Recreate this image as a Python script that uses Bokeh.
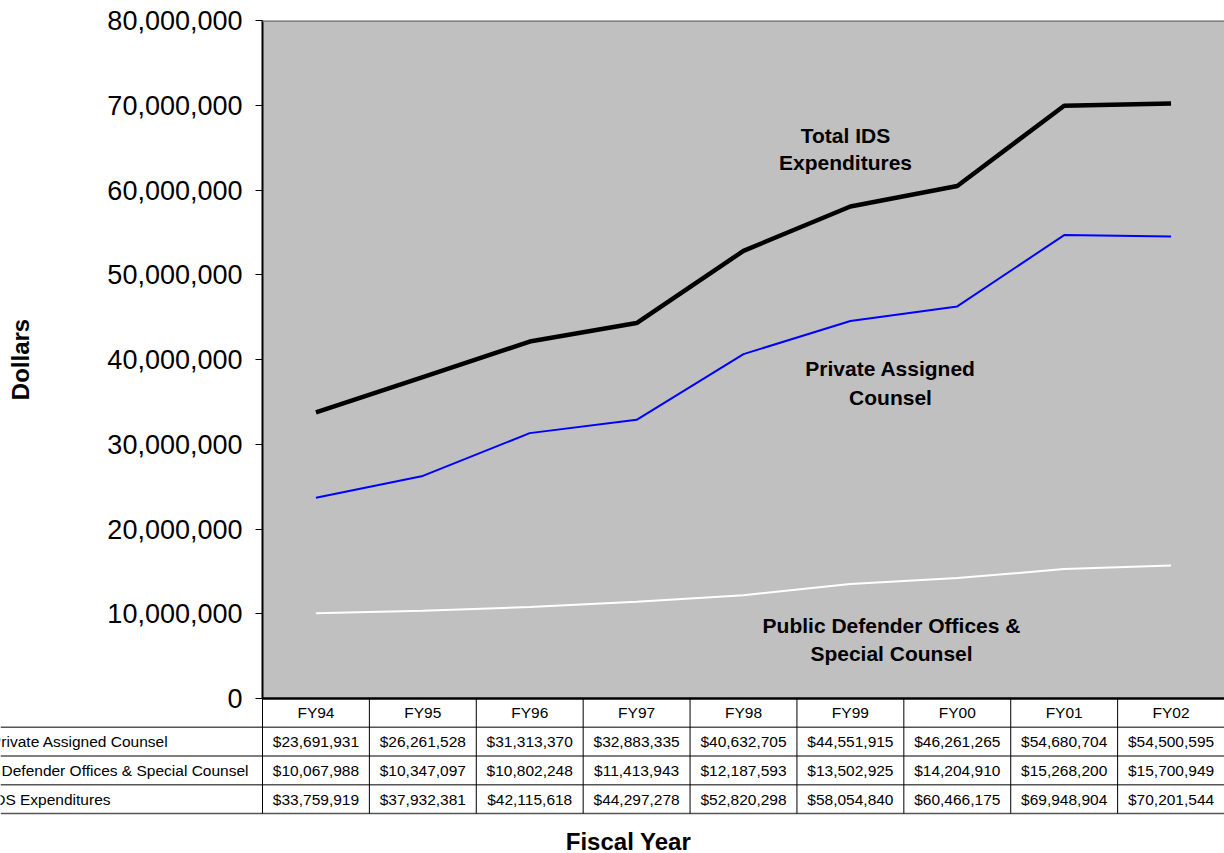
from bokeh.plotting import figure
from bokeh.layouts import column
from bokeh.models import Range1d, FixedTicker, NumeralTickFormatter, Span
from bokeh.core.properties import value
from bokeh.embed import file_html
from bokeh.resources import INLINE

# ---------------- data ----------------
fiscal_years = ["FY94", "FY95", "FY96", "FY97", "FY98", "FY99", "FY00", "FY01", "FY02"]
private_assigned = [23691931, 26261528, 31313370, 32883335, 40632705,
                    44551915, 46261265, 54680704, 54500595]
public_defender = [10067988, 10347097, 10802248, 11413943, 12187593,
                   13502925, 14204910, 15268200, 15700949]
total_ids = [33759919, 37932381, 42115618, 44297278, 52820298,
             58054840, 60466175, 69948904, 70201544]
row_labels = ["Private Assigned Counsel",
              "Public Defender Offices & Special Counsel",
              "Total IDS Expenditures"]
y_ticks = [0, 10000000, 20000000, 30000000, 40000000,
           50000000, 60000000, 70000000, 80000000]

# ---------------- layout constants ----------------
FONT = "Liberation Sans"
W, H = 1224, 853
LEFT, TOP = 262, 20
ZERO_PX = 698          # pixel row of the plot-area bottom (y = 0)
YMAX = 80000000
n = len(fiscal_years)
step = (W - LEFT) / n
unit = YMAX / (ZERO_PX - TOP)

# ================= chart =================
p = figure(width=W, height=H, x_range=Range1d(0, n), y_range=Range1d(0, YMAX),
           x_axis_type=None, output_backend="svg", toolbar_location=None,
           min_border_left=LEFT, min_border_top=TOP, min_border_right=0,
           min_border_bottom=H - ZERO_PX)
p.frame_align = False
p.background_fill_color = "#C0C0C0"
p.border_fill_color = "white"
p.outline_line_color = None
p.grid.visible = False
p.add_layout(Span(location=YMAX, dimension="width", line_color="#808080", line_width=3))


def py(pix):
    return (ZERO_PX - pix) * unit


def px(pix):
    return (pix - LEFT) / step


xs = [i + 0.5 for i in range(n)]
p.line(xs, public_defender, line_color="white", line_width=2)
p.line(xs, private_assigned, line_color="#0000FF", line_width=2)
p.line(xs, total_ids, line_color="black", line_width=4.5)

ax = p.yaxis[0]
ax.ticker = FixedTicker(ticks=y_ticks)
ax.formatter = NumeralTickFormatter(format="0,0")
ax.major_label_text_font = FONT
ax.major_label_text_font_size = "27px"
ax.major_label_text_color = "black"
ax.major_tick_out = 7
ax.major_tick_in = 0
ax.minor_tick_out = 0
ax.minor_tick_in = 0
ax.major_tick_line_color = "black"
ax.axis_line_color = "black"
ax.axis_line_width = 2
ax.major_label_standoff = 13
ax.axis_label = "Dollars"
ax.axis_label_text_font = FONT
ax.axis_label_text_font_style = "bold"
ax.axis_label_text_font_size = "24px"
ax.axis_label_text_color = "black"
ax.axis_label_standoff = 70

ann_text = ["Total IDS", "Expenditures", "Private Assigned", "Counsel",
            "Public Defender Offices &", "Special Counsel"]
ann_x = [px(845), px(845), px(890), px(890), px(891), px(891)]
ann_y = [py(135), py(162), py(368), py(397), py(625), py(653)]
p.text(x=ann_x, y=ann_y, text=ann_text, text_font=value(FONT), text_font_style="bold",
       text_font_size="21px", text_align="center", text_baseline="middle",
       text_color="black")

# ================= data table (transparent overlay under the plot area) =================
ROW_H = 28.75
TB_TOP = ZERO_PX - 5
TB_H = H - TB_TOP
t = figure(width=W, height=TB_H,
           x_range=Range1d(-LEFT / step, n),
           y_range=Range1d((H - ZERO_PX) / ROW_H, -(ZERO_PX - TB_TOP) / ROW_H),
           x_axis_type=None, y_axis_type=None, output_backend="svg",
           toolbar_location=None, min_border=0, margin=(-TB_H, 0, 0, 0))
t.frame_align = False
t.background_fill_color = None
t.border_fill_color = None
t.outline_line_color = None
t.grid.visible = False

# plot-area bottom edge
t.segment(x0=[0], y0=[0], x1=[n], y1=[0], line_color="black", line_width=2.5)
# horizontal rules under each row
rules = [1, 2, 3, 4]
t.segment(x0=[-LEFT / step] * len(rules), y0=rules, x1=[n] * len(rules), y1=rules,
          line_color="#555555", line_width=1.5)
# column separators
cols = list(range(n))
t.segment(x0=cols, y0=[0] * n, x1=cols, y1=[4] * n, line_color="black", line_width=1)

cell_x, cell_y, cell_t = [], [], []
for i, fy in enumerate(fiscal_years):
    cell_x.append(i + 0.5)
    cell_y.append(0.5)
    cell_t.append(fy)
for r, series in enumerate([private_assigned, public_defender, total_ids]):
    for i, v in enumerate(series):
        cell_x.append(i + 0.5)
        cell_y.append(r + 1.5)
        cell_t.append("${:,}".format(v))
t.text(x=cell_x, y=cell_y, text=cell_t, text_font=value(FONT), text_font_size="15.5px",
       text_align="center", text_baseline="middle", text_color="black")

label_ends = [168, 248, 110]
t.text(x=[px(e) for e in label_ends], y=[1.5, 2.5, 3.5], text=row_labels,
       text_font=value(FONT), text_font_size="15.5px", text_align="right",
       text_baseline="middle", text_color="black")

t.text(x=[px(628)], y=[(841 - ZERO_PX) / ROW_H], text=["Fiscal Year"],
       text_font=value(FONT), text_font_style="bold", text_font_size="24px",
       text_align="center", text_baseline="middle", text_color="black")

layout = column(p, t, spacing=0)
open("out.html", "w").write(file_html(layout, INLINE))
